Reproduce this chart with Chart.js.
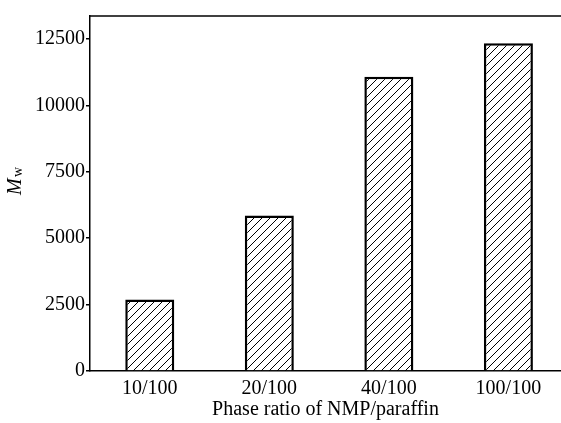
<!DOCTYPE html>
<html>
<head>
<meta charset="utf-8">
<script src="https://cdn.jsdelivr.net/npm/chart.js@4.4.0/dist/chart.umd.min.js"></script>
<style>
	html, body { margin: 0; padding: 0; background: #fff; }
	#wrap { width: 561px; height: 423px; }
</style>
</head>
<body>
<div id="wrap"><canvas id="mwChart"></canvas></div>
<script>
var categories = ["10/100", "20/100", "40/100", "100/100"];
var mwValues = [2690, 5850, 11070, 12330];
var yTicks = [0, 2500, 5000, 7500, 10000, 12500];
var xTitle = "Phase ratio of NMP/paraffin";

var serif = "'Liberation Serif', 'Times New Roman', serif";

function makeHatch() {
	var c = document.createElement("canvas");
	c.width = 8;
	c.height = 8;
	var g = c.getContext("2d");
	g.fillStyle = "#fff";
	g.fillRect(0, 0, 8, 8);
	g.strokeStyle = "#000";
	g.lineWidth = 1;
	g.beginPath();
	g.moveTo(-2, 10); g.lineTo(10, -2);
	g.moveTo(-2, 2); g.lineTo(2, -2);
	g.moveTo(6, 10); g.lineTo(10, 6);
	g.stroke();
	return g.createPattern(c, "repeat");
}

var points = [];
for (var i = 0; i < categories.length; i++) {
	points.push({ x: i, y: mwValues[i] });
}

// top border + y title with subscript
var framePlugin = {
	id: "frame",
	afterDraw: function(chart) {
		var ctx = chart.ctx;
		var a = chart.chartArea;
		ctx.save();
		ctx.strokeStyle = "#000";
		ctx.lineWidth = 1.5;
		ctx.beginPath();
		ctx.moveTo(a.left, a.top);
		ctx.lineTo(chart.width, a.top);
		ctx.stroke();

		ctx.translate(21, 195);
		ctx.rotate(-Math.PI / 2);
		ctx.fillStyle = "#000";
		ctx.textBaseline = "alphabetic";
		ctx.font = "italic 20px " + serif;
		ctx.fillText("M", 0, 0);
		ctx.font = "14px " + serif;
		ctx.fillText("w", 18, 1);
		ctx.restore();
	}
};

var ctx = document.getElementById("mwChart").getContext("2d");
var chart = new Chart(ctx, {
	type: "bar",
	data: {
		datasets: [{
			label: "Mw",
			data: points,
			backgroundColor: makeHatch(),
			borderColor: "#000",
			borderWidth: 2.5,
			borderSkipped: "bottom",
			barPercentage: 0.41,
			categoryPercentage: 1
		}]
	},
	options: {
		responsive: true,
		maintainAspectRatio: false,
		animation: false,
		layout: { padding: { top: 16, right: 0, left: 0, bottom: 0 } },
		plugins: {
			legend: { display: false },
			tooltip: { enabled: false }
		},
		scales: {
			x: {
				type: "linear",
				offset: false,
				min: -0.5,
				max: 3.44,
				grid: { display: false },
				border: { color: "#000", width: 1.5 },
				ticks: {
					color: "#000",
					font: { family: serif, size: 20 },
					padding: -2,
					callback: function(v) { return categories[v]; }
				},
				afterBuildTicks: function(scale) {
					scale.ticks = categories.map(function(c, i) { return { value: i }; });
				},
				afterFit: function(scale) { scale.height = 52; },
				title: {
					display: true,
					text: xTitle,
					color: "#000",
					font: { family: serif, size: 20 },
					padding: { top: 0, bottom: 1 }
				}
			},
			y: {
				min: 0,
				max: 13360,
				grid: {
					display: true,
					drawOnChartArea: false,
					drawTicks: true,
					tickLength: 4,
					color: "#000",
					lineWidth: 1.5
				},
				border: { color: "#000", width: 1.5 },
				ticks: {
					color: "#000",
					font: { family: serif, size: 20 },
					padding: 1,
					callback: function(v) { return String(v); }
				},
				afterBuildTicks: function(scale) {
					scale.ticks = yTicks.map(function(v) { return { value: v }; });
				},
				afterFit: function(scale) { scale.width = 90; }
			}
		}
	},
	plugins: [framePlugin]
});
</script>
</body>
</html>
